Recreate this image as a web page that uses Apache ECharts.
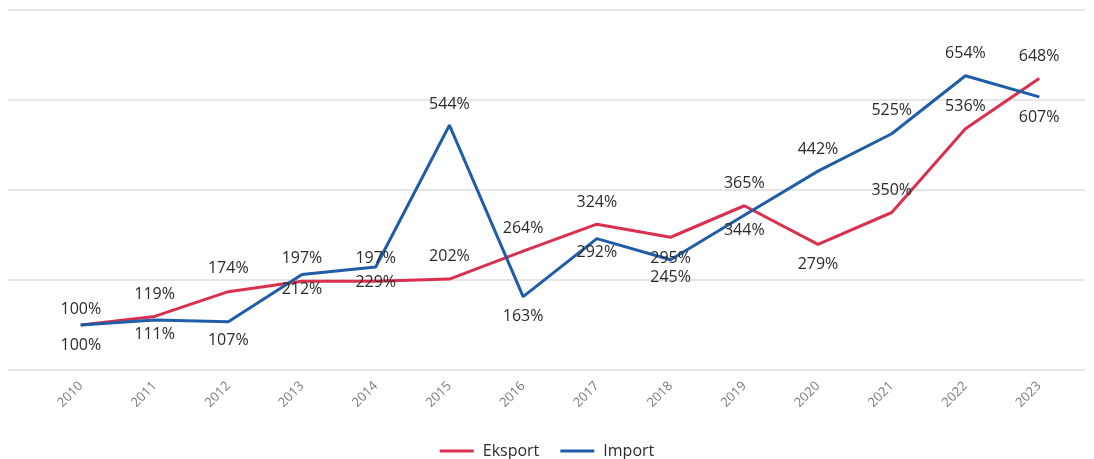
<!DOCTYPE html>
<html>
<head>
<meta charset="utf-8">
<script src="https://cdn.jsdelivr.net/npm/echarts@6/dist/echarts.min.js"></script>
<style>
  html, body { margin: 0; padding: 0; background: #ffffff; }
  #chart { width: 1094px; height: 459px; }
</style>
</head>
<body>
<div id="chart"></div>
<script>
const years = ['2010','2011','2012','2013','2014','2015','2016','2017','2018','2019','2020','2021','2022','2023'];
const eksport = [100, 119, 174, 197, 197, 202, 264, 324, 295, 365, 279, 350, 536, 648];
const importVals = [100, 111, 107, 212, 229, 544, 163, 292, 245, 344, 442, 525, 654, 607];
const yTicks = { min: 0, max: 800, interval: 200 };

// label placement (style): vertical offset of each value label from its point
const eksportLabelDy = [-16, -22, -23, -23, -23, -23, -23, -22, 21, -22, 20, -22, -22, -22];
const importLabelDy  = [20, 14, 19, 15, 15, -21, 20, 14, 18, 15, -22, -23, -22, 21];

const RED = '#d9304f';
const BLUE = '#1f5da8';
const FONT = '"Open Sans", "Noto Sans", sans-serif';

function withLabels(vals, dys) {
  return vals.map((v, i) => ({ value: v, label: { offset: [0, dys[i]] } }));
}

const chart = echarts.init(document.getElementById('chart'), null, { renderer: 'canvas' });
chart.setOption({
  animation: false,
  backgroundColor: '#ffffff',
  grid: [
    { left: 8, right: 9, top: 10, bottom: 89 },
    { left: 44, right: 18, top: 10, bottom: 89 }
  ],
  xAxis: [
    { gridIndex: 0, type: 'category', data: years, show: false },
    {
      gridIndex: 1, type: 'category', data: years, boundaryGap: true,
      axisLine: { show: false }, axisTick: { show: false },
      axisLabel: { rotate: 45, color: '#7a7a7a', fontSize: 13, fontFamily: FONT, margin: 14 }
    }
  ],
  yAxis: [
    {
      gridIndex: 0, type: 'value', min: yTicks.min, max: yTicks.max, interval: yTicks.interval,
      axisLabel: { show: false }, axisLine: { show: false }, axisTick: { show: false },
      splitLine: { show: true, lineStyle: { color: '#e6e6e6', width: 2 } }
    },
    {
      gridIndex: 1, type: 'value', min: yTicks.min, max: yTicks.max, interval: yTicks.interval,
      show: false, splitLine: { show: false }
    }
  ],
  legend: {
    top: 438,
    left: 'center',
    icon: 'rect',
    itemWidth: 34,
    itemHeight: 3,
    itemGap: 21,
    textStyle: { color: '#2b2b2b', fontSize: 16, fontFamily: FONT, padding: [0, 0, 0, 4] },
    data: ['Eksport', 'Import']
  },
  series: [
    {
      name: 'Eksport', type: 'line', xAxisIndex: 1, yAxisIndex: 1,
      data: withLabels(eksport, eksportLabelDy),
      symbol: 'circle', symbolSize: 1, showSymbol: true,
      itemStyle: { color: RED },
      lineStyle: { color: RED, width: 3 },
      label: { show: true, position: 'inside', formatter: '{c}%', color: '#2b2b2b', fontSize: 16, fontFamily: FONT }
    },
    {
      name: 'Import', type: 'line', xAxisIndex: 1, yAxisIndex: 1,
      data: withLabels(importVals, importLabelDy),
      symbol: 'circle', symbolSize: 1, showSymbol: true,
      itemStyle: { color: BLUE },
      lineStyle: { color: BLUE, width: 3 },
      label: { show: true, position: 'inside', formatter: '{c}%', color: '#2b2b2b', fontSize: 16, fontFamily: FONT }
    }
  ]
});
</script>
</body>
</html>
